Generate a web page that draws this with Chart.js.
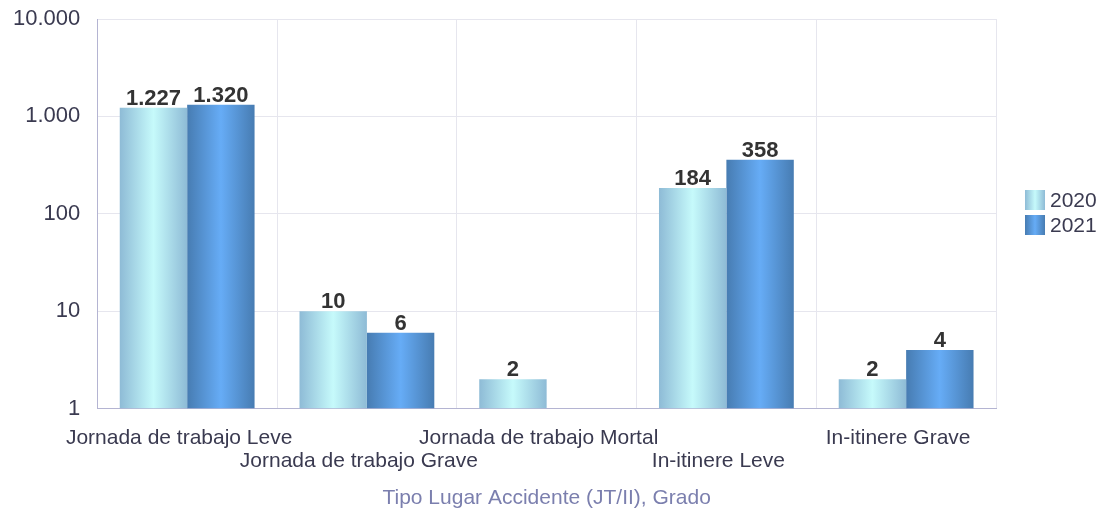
<!DOCTYPE html>
<html>
<head>
<meta charset="utf-8">
<script src="https://cdn.jsdelivr.net/npm/chart.js@4/dist/chart.umd.min.js"></script>
<style>
	body { margin: 0; background: #fff; }
	#wrap { width: 1105px; height: 517px; }
</style>
</head>
<body>
<div id="wrap"><canvas id="myChart" width="1105" height="517"></canvas></div>
<script>
// Data
var categories = [
	["Jornada de trabajo Leve"],
	["", "Jornada de trabajo Grave"],
	["Jornada de trabajo Mortal"],
	["", "In-itinere Leve"],
	["In-itinere Grave"]
];
var seriesNames = ["2020", "2021"];
var values2020 = [1227, 10, 2, 184, 2];
var values2021 = [1320, 6, null, 358, 4];
var yTicks = [1, 10, 100, 1000, 10000];

var FONT = "'Liberation Sans', Arial, sans-serif";
var catPct = 0.75;
var colors = [
	{ edge: "#8ebbd6", center: "#c6fafb" },
	{ edge: "#477cb2", center: "#66acf6" },
];

function fmt(v) {
	return String(v).replace(/\B(?=(\d{3})+(?!\d))/g, ".");
}

function hGrad(ctx, left, width, c) {
	var g = ctx.createLinearGradient(left, 0, left + width, 0);
	g.addColorStop(0, c.edge);
	g.addColorStop(0.5, c.center);
	g.addColorStop(1, c.edge);
	return g;
}

// horizontal gradient for each bar
function barGradient(c) {
	return function (context) {
		var chart = context.chart;
		var area = chart.chartArea;
		var xs = chart.scales.x;
		if (!area || !xs || context.type !== "data") return c.edge;
		var catW = (area.right - area.left) / categories.length;
		var barW = catW * catPct / 2;
		var cx = xs.getPixelForValue(context.dataIndex);
		var left = cx - catW * catPct / 2 + context.datasetIndex * barW;
		return hGrad(chart.ctx, left, barW, c);
	};
}

// value labels above bars + legend on the right
var extras = {
	id: "extras",
	afterDatasetsDraw: function (chart) {
		var ctx = chart.ctx;
		ctx.save();
		ctx.font = "bold 22px " + FONT;
		ctx.fillStyle = "#333333";
		ctx.textAlign = "center";
		ctx.textBaseline = "bottom";
		chart.data.datasets.forEach(function (ds, di) {
			chart.getDatasetMeta(di).data.forEach(function (bar, i) {
				if (ds.data[i] == null) return;
				ctx.fillText(fmt(ds.data[i]), bar.x, bar.y + 2);
			});
		});
		ctx.restore();
	},
	afterDraw: function (chart) {
		var ctx = chart.ctx;
		ctx.save();
		ctx.font = "21px " + FONT;
		ctx.textBaseline = "middle";
		seriesNames.forEach(function (name, i) {
			var x = 1025, y = 190 + i * 25;
			ctx.fillStyle = hGrad(ctx, x, 20, colors[i]);
			ctx.fillRect(x, y, 20, 20);
			ctx.fillStyle = "#3a3a50";
			ctx.fillText(name, 1050, y + 11);
		});
		ctx.restore();
	}
};

var ctx = document.getElementById("myChart").getContext("2d");
var myChart = new Chart(ctx, {
	type: "bar",
	data: {
		labels: categories,
		datasets: [
			{
				label: seriesNames[0],
				data: values2020,
				backgroundColor: barGradient(colors[0]),
				barPercentage: 1,
				categoryPercentage: catPct,
			},
			{
				label: seriesNames[1],
				data: values2021,
				backgroundColor: barGradient(colors[1]),
				barPercentage: 1,
				categoryPercentage: catPct,
			},
		],
	},
	options: {
		responsive: false,
		animation: false,
		layout: {
			padding: { top: 19, right: 109, left: -4, bottom: 6 },
		},
		plugins: {
			tooltip: { enabled: false },
			legend: { display: false },
		},
		scales: {
			y: {
				type: "logarithmic",
				min: 1,
				max: 10000,
				afterBuildTicks: function (axis) {
					axis.ticks = yTicks.map(function (v) { return { value: v }; });
				},
				afterFit: function (axis) {
					axis.paddingTop = 0;
				},
				grid: {
					color: "#e6e6ee",
					drawTicks: false,
				},
				border: { color: "#b4b4d2", width: 1 },
				ticks: {
					padding: 17,
					color: "#3a3a50",
					font: { size: 22, family: FONT },
					callback: function (v) { return fmt(v); },
				},
			},
			x: {
				grid: {
					color: "#e6e6ee",
					drawTicks: false,
					offset: true,
				},
				border: { color: "#b4b4d2", width: 1 },
				ticks: {
					padding: 18,
					labelOffset: -8,
					maxRotation: 0,
					autoSkip: false,
					color: "#3a3a50",
					font: { size: 21, family: FONT, lineHeight: 1.1 },
				},
				title: {
					display: true,
					text: "Tipo Lugar Accidente (JT/II), Grado",
					color: "#7b7fae",
					font: { size: 21, family: FONT },
					padding: { top: -5, bottom: 0 },
				},
			},
		},
	},
	plugins: [extras],
});
</script>
</body>
</html>
